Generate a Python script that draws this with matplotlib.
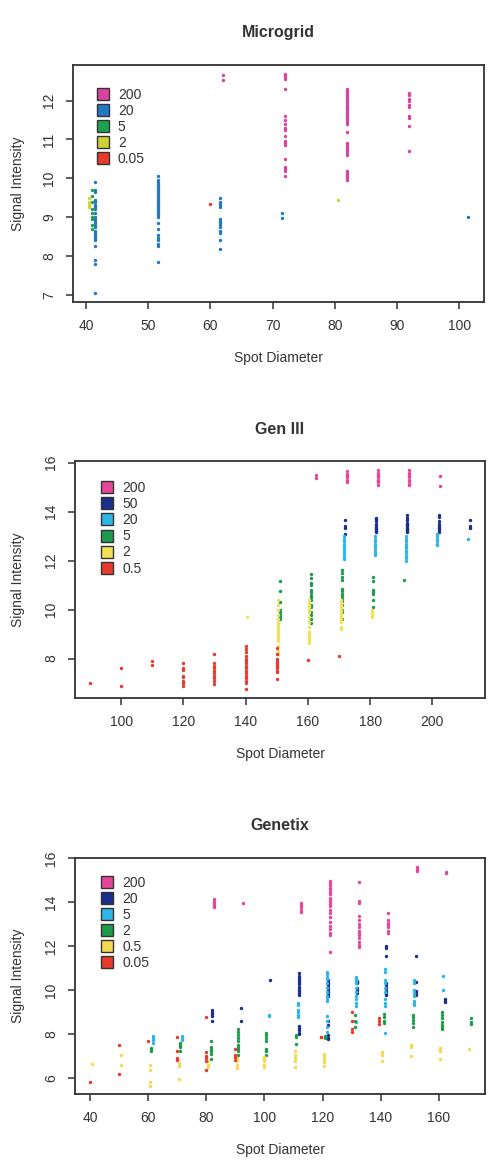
import numpy as np
import matplotlib
matplotlib.use("Agg")
import matplotlib.pyplot as plt
from matplotlib.lines import Line2D

plt.rcParams['font.family'] = ['Liberation Sans', 'DejaVu Sans']

# ---------------- Microgrid data ----------------
mg_labels = ["200", "20", "5", "2", "0.05"]
mg_colors = ["#d8449f", "#2179c4", "#1fa152", "#cdd23b", "#e8392b"]

mg_200_x = [62, 72, 82, 92]
mg_200_y = [[12.67, 12.53],
            [12.7, 12.65, 12.6, 12.55, 12.3, 11.6, 11.5, 11.4, 11.3, 11.25, 11.1,
             10.95, 10.9, 10.85, 10.5, 10.3, 10.25, 10.2, 10.05],
            [12.3, 12.25, 12.2, 12.15, 12.1, 12.05, 12.0, 11.95, 11.9, 11.85, 11.8,
             11.75, 11.7, 11.65, 11.6, 11.55, 11.5, 11.45, 11.4, 11.2, 10.9, 10.85,
             10.8, 10.75, 10.7, 10.65, 10.6, 10.2, 10.15, 10.1, 10.05, 10.0, 9.95],
            [12.2, 12.15, 12.05, 12.0, 11.9, 11.85, 11.6, 11.55, 11.35, 10.7]]
mg_20_x = [41.5, 51.5, 61.5, 71.5, 101.5]
mg_20_y = [[9.9, 9.7, 9.65, 9.45, 9.4, 9.3, 9.25, 9.2, 9.1, 9.0, 8.95, 8.9, 8.85,
            8.8, 8.75, 8.65, 8.6, 8.55, 8.5, 8.45, 8.4, 8.25, 7.9, 7.8, 7.03],
           [10.05, 9.95, 9.9, 9.85, 9.8, 9.75, 9.7, 9.65, 9.6, 9.55, 9.5, 9.45, 9.4,
            9.35, 9.3, 9.25, 9.2, 9.15, 9.1, 9.05, 9.0, 8.85, 8.7, 8.55, 8.45, 8.4,
            8.3, 8.25, 7.85],
           [9.5, 9.4, 9.35, 9.3, 9.25, 8.95, 8.9, 8.85, 8.8, 8.75, 8.65, 8.6, 8.4, 8.17],
           [9.11, 8.98],
           [9.0]]
mg_5_x = [41.0]
mg_5_y = [[9.7, 9.55, 9.4, 9.2, 9.1, 9.0, 8.95, 8.8, 8.7]]
mg_2_x = [40.5, 80.5]
mg_2_y = [[9.5, 9.4, 9.3, 9.25], [9.45]]
mg_005_x = [60.0]
mg_005_y = [[9.33]]

# ---------------- Gen III data ----------------
g3_labels = ["200", "50", "20", "5", "2", "0.5"]
g3_colors = ["#e9449b", "#1b2e8c", "#2ab7e8", "#1c9b4c", "#f2e052", "#e8392b"]

g3_200_x = [162.5, 172.5, 182.5, 192.5, 202.5]
g3_200_y = [[15.5, 15.36],
            [15.65, 15.55, 15.45, 15.4, 15.3, 15.2],
            [15.7, 15.6, 15.5, 15.45, 15.4, 15.3, 15.25, 15.2, 15.1],
            [15.7, 15.6, 15.55, 15.45, 15.4, 15.3, 15.25, 15.15, 15.1],
            [15.46, 15.05]]
g3_50_x = [172, 182, 192, 202, 212]
g3_50_y = [[13.65, 13.4, 13.35, 13.1],
           [13.75, 13.7, 13.6, 13.5, 13.4, 13.35, 13.3, 13.25, 13.2, 13.15],
           [13.85, 13.75, 13.65, 13.55, 13.5, 13.45, 13.4, 13.35, 13.3, 13.25, 13.2, 13.15],
           [13.85, 13.8, 13.6, 13.5, 13.4, 13.35, 13.25, 13.15],
           [13.68, 13.41, 13.32]]
g3_20_x = [171.5, 181.5, 191.5, 201.5, 211.5]
g3_20_y = [[13.0, 12.9, 12.8, 12.7, 12.6, 12.5, 12.4, 12.3, 12.2, 12.1, 12.05],
           [13.0, 12.9, 12.8, 12.7, 12.6, 12.5, 12.4, 12.3, 12.25],
           [13.0, 12.9, 12.8, 12.7, 12.6, 12.5, 12.4, 12.3, 12.2, 12.1, 12.0],
           [13.1, 13.0, 12.9, 12.8, 12.7, 12.65],
           [12.87]]
g3_5_x = [151, 161, 171, 181, 191]
g3_5_y = [[11.15, 10.75, 10.3, 10.0, 9.9, 9.8, 9.7, 9.6],
          [11.45, 11.3, 11.1, 11.0, 10.8, 10.7, 10.6, 10.5, 10.4, 10.2, 10.1, 9.9,
           9.8, 9.6, 9.45],
          [11.6, 11.5, 11.35, 11.2, 10.85, 10.75, 10.65, 10.55, 10.45, 10.35, 10.2,
           10.0, 9.9, 9.6],
          [11.35, 11.15, 10.8, 10.7, 10.65, 10.4, 10.1],
          [11.23]]
g3_2_x = [140.5, 150.5, 160.5, 170.5, 180.5]
g3_2_y = [[9.69],
          [10.4, 10.2, 10.0, 9.8, 9.6, 9.5, 9.4, 9.3, 9.2, 9.1, 9.0, 8.9, 8.8, 8.7,
           8.5, 8.3, 8.2],
          [10.4, 10.3, 10.2, 10.1, 10.0, 9.9, 9.7, 9.5, 9.3, 9.1, 9.0, 8.9, 8.8,
           8.7, 8.65],
          [10.4, 10.3, 10.2, 10.1, 10.0, 9.9, 9.8, 9.7, 9.6, 9.5, 9.3, 9.2],
          [10.0, 9.9, 9.8, 9.7]]
g3_05_x = [90, 100, 110, 120, 130, 140, 150, 160, 170]
g3_05_y = [[7.01],
           [7.62, 6.9],
           [7.9, 7.73],
           [7.83, 7.6, 7.55, 7.3, 7.25, 7.1, 7.0, 6.9],
           [8.18, 7.83, 7.7, 7.6, 7.5, 7.4, 7.3, 7.2, 7.1, 6.95],
           [8.5, 8.4, 8.25, 8.1, 8.0, 7.9, 7.8, 7.7, 7.65, 7.6, 7.5, 7.4, 7.3, 7.2,
            7.1, 7.0, 6.75],
           [8.45, 8.2, 8.0, 7.9, 7.8, 7.75, 7.7, 7.6, 7.5, 7.45, 7.15],
           [7.96],
           [8.1]]

# ---------------- Genetix data ----------------
gx_labels = ["200", "20", "5", "2", "0.5", "0.05"]
gx_colors = ["#e9449b", "#1b2e8c", "#2ab7e8", "#1c9b4c", "#f5d94e", "#e8392b"]

gx_200_x = [82.5, 92.5, 112.5, 122.5, 132.5, 142.5, 152.5, 162.5]
gx_200_y = [[14.15, 14.05, 13.95, 13.85, 13.75],
            [13.97],
            [13.95, 13.85, 13.75, 13.65, 13.55],
            [14.95, 14.85, 14.75, 14.65, 14.55, 14.45, 14.35, 14.2, 14.1, 14.0, 13.9,
             13.8, 13.65, 13.5, 13.3, 13.1, 12.9, 12.75, 12.6, 12.5, 11.7],
            [14.9, 14.05, 13.95, 13.35, 13.2, 13.0, 12.85, 12.7, 12.6, 12.5, 12.35,
             12.2, 12.05, 11.95],
            [13.5, 13.2, 13.05, 12.95, 12.85, 12.7, 12.6],
            [15.6, 15.5, 15.4],
            [15.35, 15.3]]
gx_20_x = [82, 92, 102, 112, 122, 132, 142, 152, 162]
gx_20_y = [[9.1, 9.0, 8.9, 8.8, 8.6],
           [9.17, 8.6],
           [10.43],
           [10.75, 10.65, 10.55, 10.45, 10.35, 10.25, 10.15, 10.05, 9.95, 9.85, 9.75,
            8.35, 8.25, 8.15, 8.05, 8.0],
           [10.45, 10.35, 10.3, 10.2, 10.1, 10.0, 9.9, 9.8, 9.7, 8.6, 8.4, 7.95, 7.8, 7.75],
           [10.4, 10.35, 10.3, 10.1, 10.0, 9.85],
           [12.0, 11.9, 11.55, 10.3, 10.2, 10.1, 9.95, 9.8, 9.75],
           [11.55, 10.35, 9.95, 9.85, 9.75],
           [9.6, 9.5, 9.45]]
gx_5_x = [61.5, 71.5, 101.5, 111.5, 121.5, 131.5, 141.5, 151.5, 161.5]
gx_5_y = [[7.9, 7.8, 7.7, 7.6],
          [7.9, 7.8, 7.7],
          [8.85, 8.8],
          [9.4, 9.3, 9.1, 9.0, 8.85, 8.75],
          [10.8, 10.7, 10.6, 10.5, 10.3, 10.1, 9.9, 9.7, 9.6, 9.5, 8.8, 8.6, 8.3, 8.1],
          [10.6, 10.5, 10.4, 10.3, 10.1, 9.9, 9.7, 9.6, 9.4, 9.25, 8.55],
          [10.95, 10.8, 10.45, 10.3, 10.1, 9.9, 9.6, 9.4, 9.25, 8.05],
          [10.45, 10.3, 10.0, 9.85, 9.7, 9.5, 9.4, 9.3],
          [10.65, 10.0]]
gx_2_x = [61, 71, 81.5, 91, 100.5, 111, 121, 131, 141, 151, 161, 171]
gx_2_y = [[7.35, 7.3, 7.2],
          [7.6, 7.5, 7.4, 7.2],
          [7.65, 7.4, 7.3, 7.25, 7.2, 7.1, 6.85],
          [8.2, 8.1, 7.95, 7.8, 7.65, 7.5, 7.4, 7.3, 7.2, 7.05],
          [8.05, 7.95, 7.8, 7.65, 7.3, 7.2, 7.05],
          [7.95, 7.85, 7.55],
          [7.9, 7.8],
          [8.85, 8.6, 8.3],
          [8.9, 8.75, 8.6, 8.5],
          [8.85, 8.75, 8.65, 8.5, 8.3],
          [9.0, 8.85, 8.7, 8.55, 8.4, 8.3, 8.2],
          [8.7, 8.55, 8.45]]
gx_05_x = [40.5, 50.5, 60.5, 70.5, 80.5, 90.5, 100, 110.5, 120.5, 140.5, 150.5, 160.5, 170.5]
gx_05_y = [[6.62],
           [7.03, 6.59],
           [6.59, 6.36, 5.79, 5.64],
           [6.65, 6.55, 5.95],
           [6.75, 6.6, 6.5],
           [6.9, 6.75, 6.6, 6.45],
           [6.95, 6.85, 6.75, 6.6, 6.5],
           [7.2, 7.05, 6.9, 6.75, 6.5],
           [7.1, 7.0, 6.85, 6.7, 6.55],
           [7.15, 7.05, 6.75],
           [7.5, 7.4, 7.0],
           [7.35, 7.25, 7.2, 6.85],
           [7.3]]
gx_005_x = [40, 50, 60, 70, 80, 90, 119.5, 130, 139.5]
gx_005_y = [[5.79],
            [7.5, 6.18],
            [7.68],
            [7.85, 7.2, 6.9, 6.8],
            [8.75, 7.15, 7.0, 6.9, 6.75, 6.35],
            [7.3, 7.05, 6.95, 6.8],
            [7.85, 7.85],
            [9.0, 8.6, 8.2, 8.1],
            [8.7, 8.6, 8.45]]

W, H = 490, 1167
DARK = "#333333"


def flatten(xs, yss):
    px, py = [], []
    for x, ys in zip(xs, yss):
        px += [x] * len(ys)
        py += ys
    return np.array(px), np.array(py)


def panel(fig, box, title, series, labels, colors, xlim, ylim, xticks, yticks,
          leg_anchor):
    l, t, r, b = box
    ax = fig.add_axes([l / W, 1 - b / H, (r - l) / W, (b - t) / H])
    for (xs, yss), c in zip(series, colors):
        px, py = flatten(xs, yss)
        ax.scatter(px, py, s=6, color=c, linewidths=0, zorder=3)
    ax.set_xlim(*xlim)
    ax.set_ylim(*ylim)
    ax.set_xticks(xticks)
    ax.set_yticks(yticks)
    ax.tick_params(direction='out', length=5, width=1.1, color=DARK,
                   labelsize=10, labelcolor=DARK, pad=7)
    plt.setp(ax.get_yticklabels(), rotation=90, va='center')
    for sp in ax.spines.values():
        sp.set_color(DARK)
        sp.set_linewidth(1.3)
    handles = [Line2D([], [], marker='s', linestyle='none', markersize=8,
                      markerfacecolor=c, markeredgecolor=DARK, markeredgewidth=1.0)
               for c in colors]
    ax.legend(handles, labels, loc='upper left', bbox_to_anchor=leg_anchor,
              frameon=False, fontsize=10, handlelength=1.0, handletextpad=0.6,
              labelspacing=0.15, borderpad=0, borderaxespad=0, labelcolor=DARK)
    cx = (l + r) / 2 / W
    fig.text(cx, 1 - (t - 32) / H, title, ha='center', va='center',
             fontsize=11.5, fontweight='bold', color=DARK)
    fig.text(cx, 1 - (b + 56) / H, "Spot Diameter", ha='center', va='center',
             fontsize=10, color=DARK)
    fig.text(18 / W, 1 - (t + b) / 2 / H, "Signal Intensity", ha='center',
             va='center', rotation=90, fontsize=10, color=DARK)
    return ax


fig = plt.figure(figsize=(W / 100, H / 100), dpi=100)

panel(fig, (73, 65, 484, 302), "Microgrid",
      [(mg_200_x, mg_200_y), (mg_20_x, mg_20_y), (mg_5_x, mg_5_y),
       (mg_2_x, mg_2_y), (mg_005_x, mg_005_y)],
      mg_labels, mg_colors, (37.9, 104.0), (6.81, 12.92),
      range(40, 101, 10), range(7, 13), (0.055, 0.905))

panel(fig, (75, 461, 485, 698), "Gen III",
      [(g3_200_x, g3_200_y), (g3_50_x, g3_50_y), (g3_20_x, g3_20_y),
       (g3_5_x, g3_5_y), (g3_2_x, g3_2_y), (g3_05_x, g3_05_y)],
      g3_labels, g3_colors, (85.2, 216.9), (6.39, 16.07),
      range(100, 201, 20), range(8, 17, 2), (0.062, 0.915))

panel(fig, (75, 858, 485, 1094), "Genetix",
      [(gx_200_x, gx_200_y), (gx_20_x, gx_20_y), (gx_5_x, gx_5_y),
       (gx_2_x, gx_2_y), (gx_05_x, gx_05_y), (gx_005_x, gx_005_y)],
      gx_labels, gx_colors, (34.8, 175.9), (5.26, 16.0),
      range(40, 161, 20), range(6, 17, 2), (0.062, 0.925))

fig.savefig("out.png", dpi=100)
